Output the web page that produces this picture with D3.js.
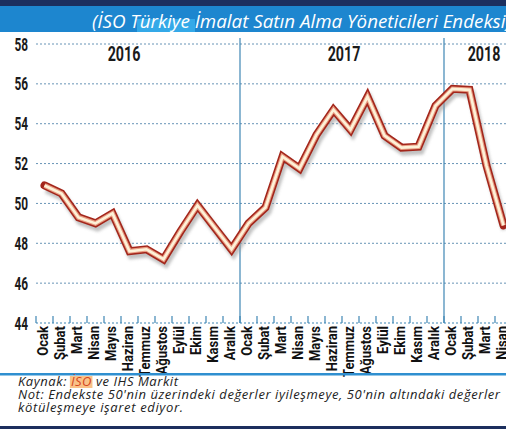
<!DOCTYPE html>
<html><head><meta charset="utf-8">
<script src="https://cdn.jsdelivr.net/npm/d3@7/dist/d3.min.js"></script>
<style>
html,body{margin:0;padding:0;background:#fff;}
svg{display:block;}
</style></head>
<body>
<svg id="c" width="506" height="431"></svg>
<script>
const months = ["Ocak","Şubat","Mart","Nisan","Mayıs","Haziran","Temmuz","Ağustos","Eylül","Ekim","Kasım","Aralık",
                "Ocak","Şubat","Mart","Nisan","Mayıs","Haziran","Temmuz","Ağustos","Eylül","Ekim","Kasım","Aralık",
                "Ocak","Şubat","Mart","Nisan"];
const years = ["2016","2017","2018"];
const values = [50.9,50.5,49.3,49.0,49.5,47.6,47.7,47.2,48.6,49.9,48.8,47.7,
                49.0,49.8,52.35,51.75,53.45,54.7,53.7,55.35,53.4,52.8,52.85,54.9,
                55.75,55.7,51.9,48.9];
const yTicks = [44,46,48,50,52,54,56,58];
const title = "(İSO Türkiye İmalat Satın Alma Yöneticileri Endeksi)";
const source = ["Kaynak: ", "İSO", " ve IHS Markit"];
const note = ["Not: Endekste 50'nin üzerindeki değerler iyileşmeye, 50'nin altındaki değerler",
              "kötüleşmeye işaret ediyor."];

const svg = d3.select("#c");
const cond = "Roboto,'Liberation Sans',sans-serif";
const italicF = "'Open Sans','Noto Sans',sans-serif";

// header
svg.append("rect").attr("x",0).attr("y",0).attr("width",506).attr("height",6).attr("fill","#1c2f5e");
svg.append("rect").attr("x",0).attr("y",6).attr("width",506).attr("height",26).attr("fill","#1d86cf");
svg.append("rect").attr("x",137).attr("y",19).attr("width",58).attr("height",13).attr("fill","#34a9e8");
svg.append("text").attr("x",92).attr("y",28).attr("fill","#fff")
  .attr("font-family",italicF).attr("font-style","italic").attr("font-size",18.8)
  .text(title);

// scales
const x = d3.scaleBand().domain(d3.range(months.length)).range([36, 36 + 17*months.length]).padding(0);
const y = d3.scaleLinear().domain([44,58]).range([323,44]);

// grid
const g = svg.append("g");
g.selectAll("line.grid").data(yTicks.filter(d=>d>44)).join("line")
  .attr("x1",36).attr("x2",506).attr("y1",d=>y(d)).attr("y2",d=>y(d))
  .attr("stroke","#6894b6").attr("stroke-width",1).attr("stroke-dasharray","2,2");

// y labels (tall condensed)
g.selectAll("text.yl").data(yTicks).join("text")
  .attr("transform",d=>`translate(28,${y(d)+6.5}) scale(0.64,1)`)
  .attr("text-anchor","end")
  .attr("font-family",cond).attr("font-weight","bold").attr("font-size",18.5).attr("fill","#1a1a1a")
  .text(d=>d);

// year separators
[12,24].forEach(i=>{
  g.append("line").attr("x1",x(i)).attr("x2",x(i)).attr("y1",38).attr("y2",323)
   .attr("stroke","#3f86b4").attr("stroke-width",1.2);
});
// year labels
const yearCenters = [124, 344, 484];
years.forEach((t,i)=>{
  g.append("text").attr("transform",`translate(${yearCenters[i]},61) scale(0.68,1)`).attr("text-anchor","middle")
   .attr("font-family",cond).attr("font-weight","bold").attr("font-size",21).attr("fill","#1a1a1a").text(t);
});

// x axis
const xa = svg.append("g").attr("transform","translate(0,323)");
xa.append("line").attr("x1",36).attr("x2",506).attr("y1",0).attr("y2",0)
  .attr("stroke","#3f86b4").attr("stroke-width",1).attr("stroke-dasharray","2,2");
xa.selectAll("line.tk").data(d3.range(months.length+1)).join("line")
  .attr("x1",d=>36+17*d).attr("x2",d=>36+17*d).attr("y1",0).attr("y2",-7)
  .attr("stroke","#3f86b4").attr("stroke-width",1.2);
xa.selectAll("text").data(months).join("text")
  .attr("transform",(d,i)=>`translate(${x(i)+x.bandwidth()/2+3.5},3) rotate(-90) scale(0.9,1)`)
  .attr("text-anchor","end")
  .attr("font-family",cond).attr("font-weight","bold").attr("font-size",14.5).attr("fill","#111")
  .text(d=>d);

// line
const defs = svg.append("defs");
const f = defs.append("filter").attr("id","sh").attr("x","-10%").attr("y","-10%").attr("width","120%").attr("height","130%");
f.append("feGaussianBlur").attr("stdDeviation",1.8);
const line = d3.line().x((d,i)=>x(i)+x.bandwidth()/2).y(d=>y(d)).curve(d3.curveLinear);
const lg = svg.append("g");
lg.append("path").datum(values).attr("d",line).attr("transform","translate(2,4)")
  .attr("fill","none").attr("stroke","#9a9a9a").attr("stroke-width",8).attr("opacity",0.6).attr("filter","url(#sh)");
lg.append("path").datum(values).attr("d",line)
  .attr("fill","none").attr("stroke","#a3261b").attr("stroke-width",8).attr("stroke-linejoin","miter").attr("stroke-linecap","round");
lg.append("path").datum(values).attr("d",line)
  .attr("fill","none").attr("stroke","#e89a80").attr("stroke-width",4.8).attr("stroke-linejoin","miter");
lg.append("path").datum(values).attr("d",line)
  .attr("fill","none").attr("stroke","#fdf2d8").attr("stroke-width",2.6).attr("stroke-linejoin","miter");

// footer
svg.append("rect").attr("x",0).attr("y",373).attr("width",506).attr("height",2.5).attr("fill","#2f8fd0");
svg.append("rect").attr("x",0).attr("y",426).attr("width",506).attr("height",3).attr("fill","#1c2f5e");
const ft = svg.append("text").attr("x",18).attr("y",386)
  .attr("font-family",italicF).attr("font-style","italic").attr("font-size",13).attr("fill","#222")
  .attr("textLength",160).attr("lengthAdjust","spacing");
ft.append("tspan").text(source[0]);
const isoT = ft.append("tspan").text(source[1]).attr("fill","#d4451c");
ft.append("tspan").text(source[2]);
const noteLen = [482, 165];
note.forEach((t,i)=>{
  svg.append("text").attr("x",18).attr("y",399+13*i)
   .attr("font-family",italicF).attr("font-style","italic").attr("font-size",13).attr("fill","#222")
   .attr("textLength",noteLen[i]).attr("lengthAdjust","spacing").text(t);
});
// highlight behind İSO
(function(){
  const n = ft.node();
  const s = n.getStartPositionOfChar(source[0].length);
  const e = n.getEndPositionOfChar(source[0].length + source[1].length - 1);
  svg.insert("rect","text").attr("x",s.x-1).attr("y",376).attr("width",e.x-s.x+2).attr("height",12).attr("fill","#f7b36a").attr("opacity",0.8);
})();
</script>
</body></html>
